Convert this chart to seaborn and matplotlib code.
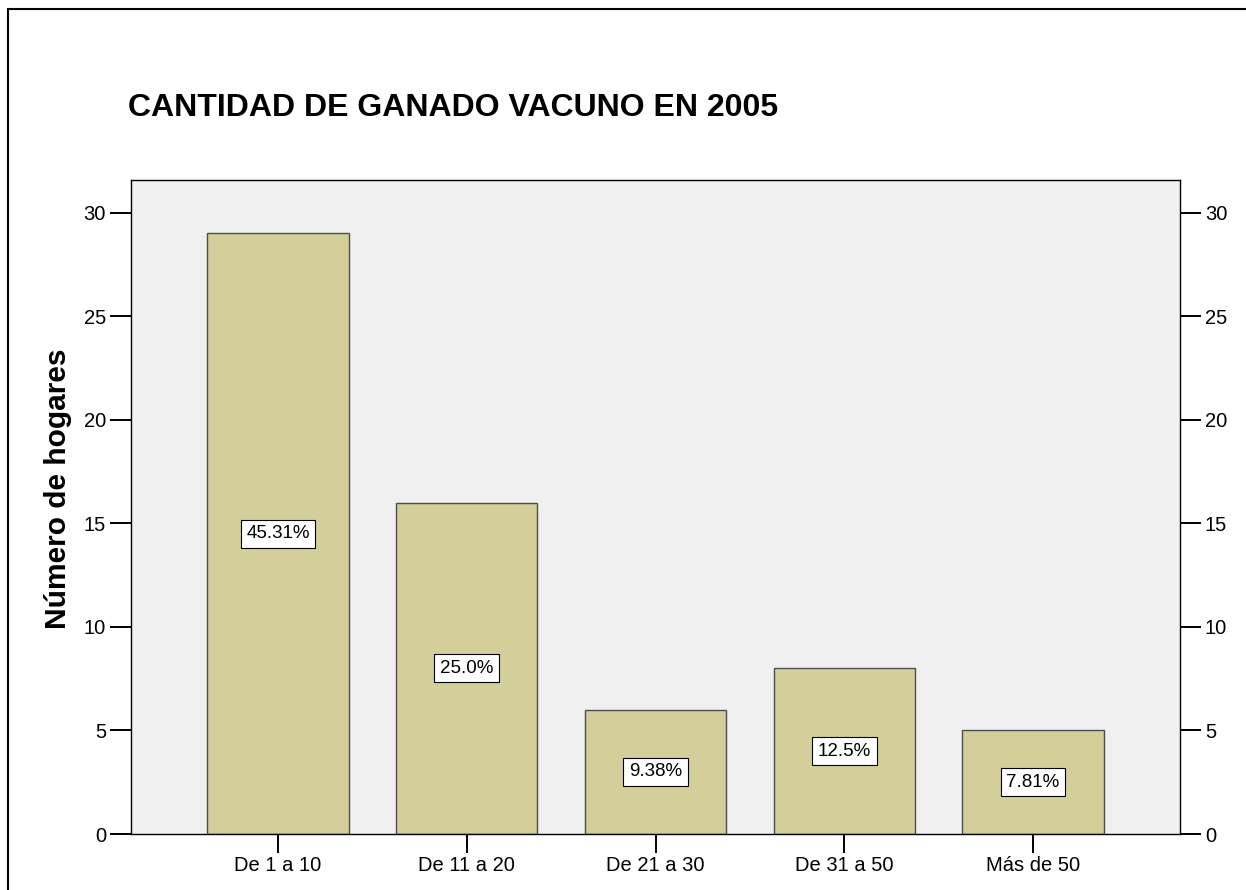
import matplotlib
matplotlib.use('Agg')
import matplotlib.pyplot as plt
import seaborn as sns
import pandas as pd
from matplotlib.lines import Line2D

categories = ["De 1 a 10", "De 11 a 20", "De 21 a 30", "De 31 a 50", "Más de 50"]
households = [29, 16, 6, 8, 5]
pct_labels = ["45.31%", "25.0%", "9.38%", "12.5%", "7.81%"]
yticks = [0, 5, 10, 15, 20, 25, 30]

sns.set_style('white')
plt.rcParams['font.family'] = ['Liberation Sans', 'DejaVu Sans']
plt.rcParams['text.color'] = 'black'
plt.rcParams['axes.labelcolor'] = 'black'
plt.rcParams['xtick.color'] = 'black'
plt.rcParams['ytick.color'] = 'black'

W, H = 1246, 890
fig = plt.figure(figsize=(W / 100, H / 100), dpi=100)
ax = fig.add_axes([131 / W, 56 / H, 1049 / W, 654 / H])

df = pd.DataFrame({'cat': categories, 'n': households})
sns.barplot(data=df, x='cat', y='n', color='#D3CE9A', width=0.75, saturation=1,
            edgecolor='#4d4d4d', linewidth=1.0, ax=ax)

ax.set_facecolor('#F0F0F0')
ax.set_xlim(-0.778, 4.778)
ax.set_ylim(0, 31.58)
ax.set_yticks(yticks)
ax.set_xlabel('')
ax.set_ylabel('')
for s in ax.spines.values():
    s.set_visible(True)
    s.set_color('black')
    s.set_linewidth(1.0)

ax.tick_params(axis='y', which='both', left=True, right=True, labelleft=True, labelright=True,
               length=15, width=1.4, direction='out', labelsize=14.5, pad=3,
               colors='black', labelcolor='black')
ax.tick_params(axis='x', bottom=True, length=14, width=1.4, direction='out', labelsize=14.5,
               pad=2, colors='black', labelcolor='black')

for i, (v, lab) in enumerate(zip(households, pct_labels)):
    ax.text(i, v / 2, lab, ha='center', va='center', fontsize=13.5, color='black',
            bbox=dict(boxstyle='square,pad=0.3', fc='white', ec='black', lw=0.8))

fig.text(128 / W, 1 - 108 / H, 'CANTIDAD DE GANADO VACUNO EN 2005', fontsize=23,
         fontweight='bold', ha='left', va='center', color='black')
fig.text(58 / W, 1 - 489 / H, 'Número de hogares', fontsize=21.5, fontweight='bold',
         rotation=90, ha='center', va='center', color='black')

fig.add_artist(Line2D([8 / W, 8 / W], [0, 1 - 9 / H], transform=fig.transFigure,
                      color='black', lw=1.5))
fig.add_artist(Line2D([8 / W, 1], [1 - 9 / H, 1 - 9 / H], transform=fig.transFigure,
                      color='black', lw=1.5))

fig.savefig('out.png', dpi=100)
